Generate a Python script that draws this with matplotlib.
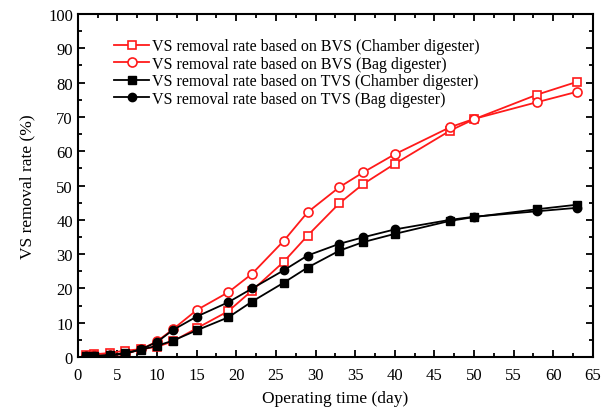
import matplotlib
matplotlib.use('Agg')
import matplotlib.pyplot as plt
from matplotlib.ticker import MultipleLocator

plt.rcParams['font.family'] = ['Liberation Serif', 'DejaVu Serif']

days = [1, 2, 4, 6, 8, 10, 12, 15, 19, 22, 26, 29, 33, 36, 40, 47, 50, 58, 63]

bvs_chamber = [0.5, 0.8, 1.2, 1.9, 2.3, 3.0, 4.6, 8.4, 13.4, 19.4, 27.8, 35.4, 44.8, 50.4, 56.3, 66.0, 69.3, 76.5, 80.2]
bvs_bag = [0.3, 0.5, 0.6, 0.9, 2.3, 4.6, 8.1, 13.7, 18.9, 24.3, 33.9, 42.2, 49.5, 53.8, 59.1, 67.0, 69.4, 74.3, 77.3]
tvs_chamber = [0.2, 0.3, 0.6, 1.2, 2.2, 3.3, 4.8, 7.8, 11.6, 16.2, 21.7, 26.1, 31.0, 33.5, 35.9, 39.7, 40.8, 43.1, 44.4]
tvs_bag = [0.2, 0.3, 0.5, 1.0, 2.3, 4.4, 7.9, 11.8, 16.0, 20.0, 25.3, 29.6, 33.0, 34.9, 37.2, 40.0, 40.9, 42.5, 43.5]

labels = ['VS removal rate based on BVS (Chamber digester)',
          'VS removal rate based on BVS (Bag digester)',
          'VS removal rate based on TVS (Chamber digester)',
          'VS removal rate based on TVS (Bag digester)']

fig = plt.figure(figsize=(6.13, 4.14), dpi=100)
ax = fig.add_axes([0.127, 0.135, 0.840, 0.829])

red = '#ff1a1a'
ax.plot(days, bvs_chamber, color=red, lw=1.3, marker='s', ms=6, mfc='white', mec=red, mew=1.2, label=labels[0])
ax.plot(days, bvs_bag, color=red, lw=1.3, marker='o', ms=6.5, mfc='white', mec=red, mew=1.2, label=labels[1])
ax.plot(days, tvs_chamber, color='black', lw=1.3, marker='s', ms=5.5, label=labels[2])
ax.plot(days, tvs_bag, color='black', lw=1.3, marker='o', ms=6, label=labels[3])

ax.set_xlim(0, 65)
ax.set_ylim(0, 100)
ax.xaxis.set_major_locator(MultipleLocator(5))
ax.xaxis.set_minor_locator(MultipleLocator(2.5))
ax.yaxis.set_major_locator(MultipleLocator(10))
ax.yaxis.set_minor_locator(MultipleLocator(5))
ax.tick_params(which='both', direction='in', top=True, right=True, labelsize=12, width=1.3)
ax.tick_params(which='major', length=5)
ax.tick_params(which='minor', length=3)
ax.tick_params(axis='x', pad=7)
for s in ax.spines.values():
    s.set_linewidth(1.5)

ax.set_xlabel('Operating time (day)', fontsize=12.5, labelpad=5)
ax.set_ylabel('VS removal rate (%)', fontsize=12.5, labelpad=9)

ax.legend(loc='upper left', bbox_to_anchor=(0.058, 0.948), frameon=False, fontsize=11.5,
          handlelength=2.2, handletextpad=0.2, labelspacing=0.1, borderaxespad=0)

fig.savefig('out.png', dpi=100)
